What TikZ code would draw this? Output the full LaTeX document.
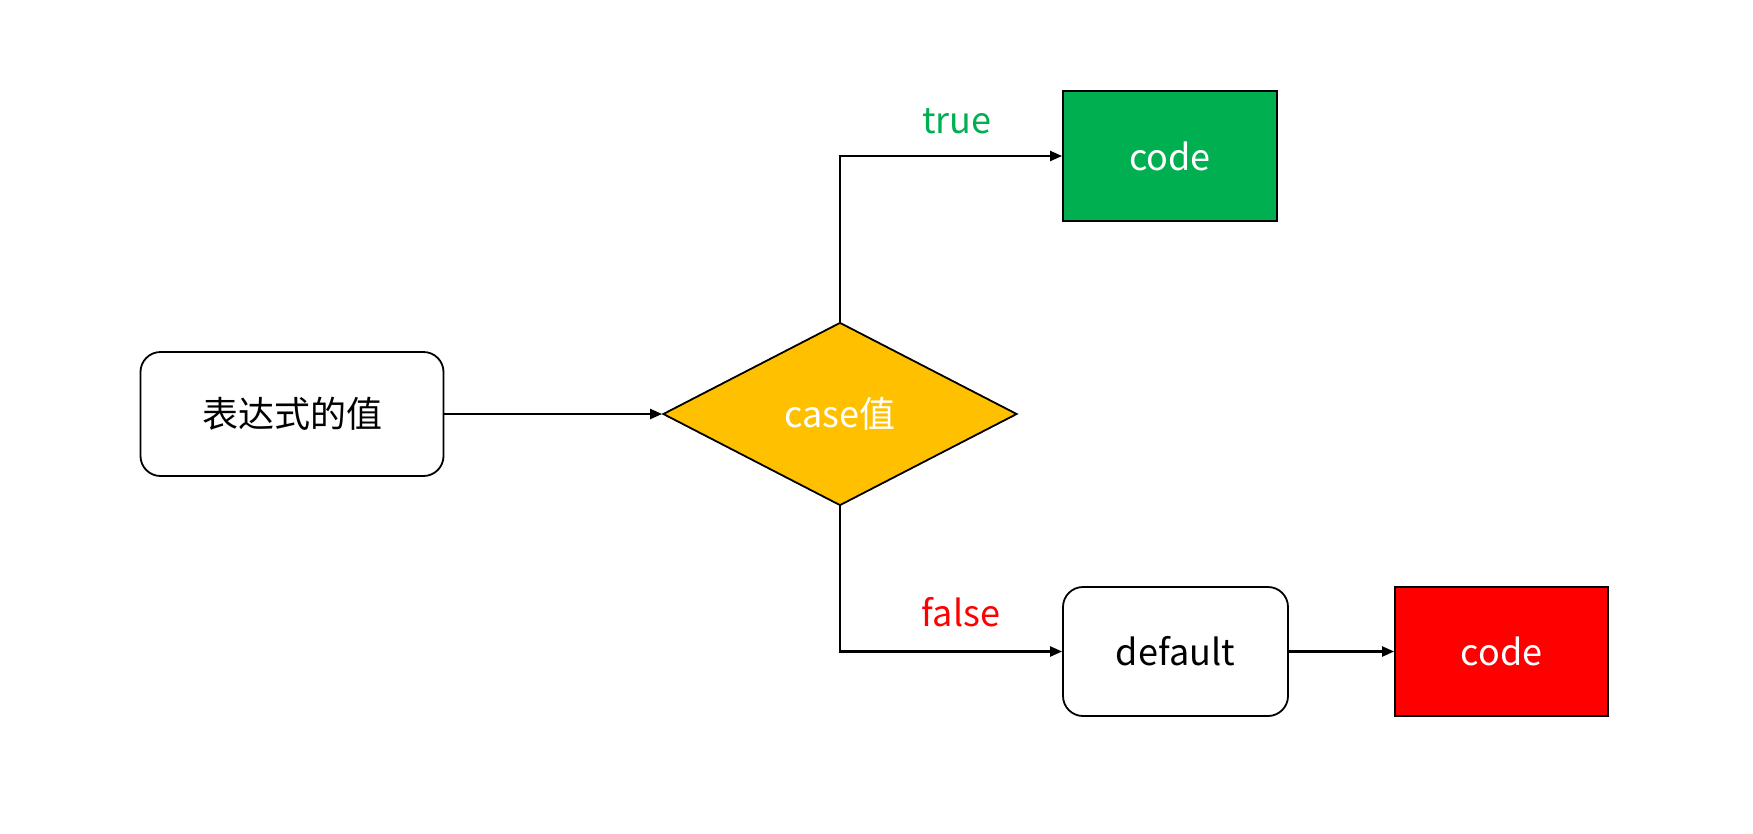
\documentclass[tikz,border=0pt]{standalone}
\usepackage{fontspec}
\setmainfont{Noto Sans CJK SC}
\usetikzlibrary{shapes.geometric,arrows.meta}
\definecolor{cgreen}{HTML}{00B050}
\definecolor{cyellow}{HTML}{FFC000}
\definecolor{cred}{HTML}{FF0000}
\begin{document}
\begin{tikzpicture}[x=1pt,y=-1pt,
  box/.style={draw=black,line width=1.8pt,inner sep=0pt,font=\fontsize{36}{42}\selectfont},
  rbox/.style={box,rounded corners=20pt,fill=white,text=black},
  cbox/.style={box,text=white},
  arr/.style={draw=black,line width=2.2pt,-{Triangle[length=12pt,width=10pt]}},
  lbl/.style={font=\fontsize{36}{42}\selectfont,inner sep=0pt}]
\useasboundingbox (0,0) rectangle (1753,833);
\node[rbox,minimum width=303pt,minimum height=124pt] (start) at (292,414) {表达式的值};
\node[box,shape=diamond,fill=cyellow,text=white,minimum width=354pt,minimum height=183pt] (dia) at (840,414) {case值};
\node[cbox,fill=cgreen,minimum width=214pt,minimum height=130pt] (green) at (1170,156) {code};
\node[rbox,minimum width=225pt,minimum height=129pt] (def) at (1175.5,651.5) {default};
\node[cbox,fill=cred,minimum width=213pt,minimum height=129pt] (red) at (1501.5,651.5) {code};
\draw[arr] (start.east) -- (dia.west);
\draw[arr] (dia.north) |- (green.west);
\draw[arr] (dia.south) |- (def.west);
\draw[arr] (def.east) -- (red.west);
\node[lbl,text=cgreen] (tl) at (957,121) {true};
\node[lbl,text=cred] (fl) at (961,612) {false};
\end{tikzpicture}
\end{document}
